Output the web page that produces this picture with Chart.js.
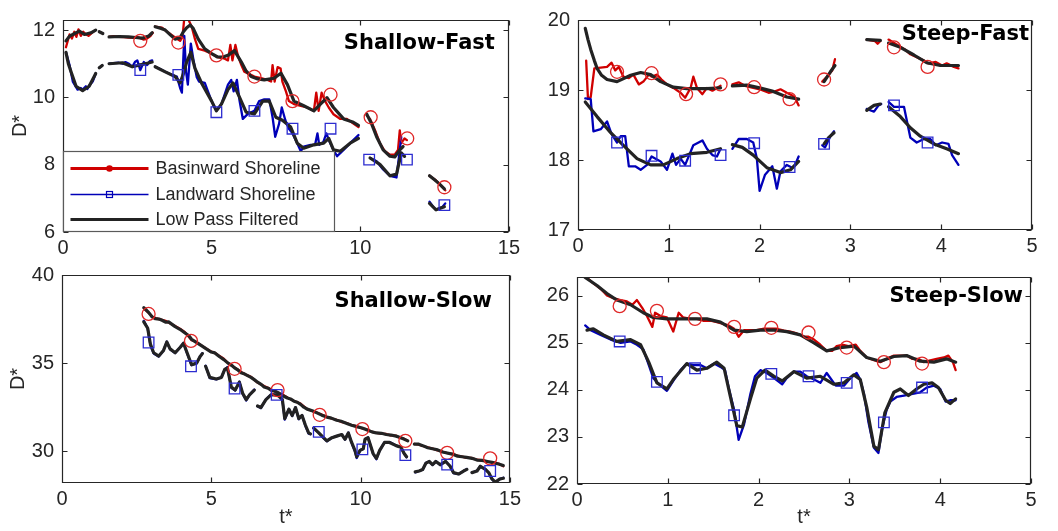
<!DOCTYPE html>
<html>
<head>
<meta charset="utf-8">
<script src="https://cdn.jsdelivr.net/npm/chart.js@4.4.1/dist/chart.umd.min.js"></script>
<style>
  html, body { margin: 0; padding: 0; background: #fff; }
  body { width: 1058px; height: 531px; position: relative; overflow: hidden; }
  canvas { position: absolute; }
</style>
</head>
<body>
<canvas id="c1" width="524" height="262" style="left:0px;top:0px"></canvas>
<canvas id="c2" width="527" height="260" style="left:515px;top:0px"></canvas>
<canvas id="c3" width="525" height="274" style="left:0px;top:255px"></canvas>
<canvas id="c4" width="527" height="273" style="left:514px;top:257px"></canvas>
<script>
// ---------- Shallow-Fast : [t*, D*], null = gap ----------
const sfBasin = [[0.1,11.49],[0.22,11.87],[0.3,11.75],[0.38,11.95],[0.45,11.8],[0.52,12.02],[0.6,11.83],[0.68,11.95],[0.76,11.88],[0.86,11.83],[1.0,11.94],[1.1,12.0],null,[1.22,11.95],[1.34,11.9],null,
  [1.55,11.8],[1.7,11.82],[1.88,11.8],[2.05,11.79],[2.2,11.78],[2.4,11.77],[2.55,11.78],[2.7,11.72],[2.8,11.73],[2.94,11.82],[3.02,11.92],null,
  [3.1,12.1],[3.33,12.07],[3.55,11.92],[3.77,11.78],[3.94,11.68],[4.02,11.8],[4.08,12.35],[4.2,12.35],[4.33,12.1],[4.44,11.73],[4.55,11.44],[4.77,11.39],[5.0,11.3],[5.2,11.2],[5.44,11.15],[5.55,11.1],[5.63,11.56],[5.7,11.1],[5.8,11.56],[5.88,11.25],[6.0,10.96],[6.1,10.76],[6.2,10.72],[6.44,10.62],[6.66,10.57],[6.88,10.52],[7.0,10.47],[7.05,10.96],[7.12,10.47],[7.22,10.9],[7.32,10.86],[7.38,10.47],[7.5,10.18],[7.6,9.89],[7.77,9.8],[8.0,9.75],[8.22,9.7],[8.44,9.6],[8.52,10.14],[8.6,9.6],[8.7,10.14],[8.8,9.92],[8.94,9.7],[9.1,9.5],[9.33,9.36],[9.55,9.36],[9.77,9.22],[9.94,9.12],null,
  [10.22,9.46],[10.33,9.36],[10.5,9.02],[10.66,8.64],[10.83,8.4],[11.0,8.3],[11.16,8.3],[11.27,8.44],[11.33,9.02],[11.38,8.64],[11.49,8.78],[11.57,8.73],null,
  [12.33,7.67],[12.55,7.53],[12.77,7.33],[12.86,7.24]];
const sfBasinLP = [[0.1,11.68],[0.22,11.82],[0.33,11.87],[0.55,11.97],[0.72,11.87],[0.94,11.92],[1.1,12.0],null,[1.22,11.95],[1.34,11.9],null,
  [1.55,11.8],[1.9,11.81],[2.2,11.8],[2.45,11.78],[2.66,11.76],[2.88,11.82],[3.0,11.92],null,
  [3.1,12.1],[3.3,12.05],[3.44,12.0],[3.62,11.85],[3.77,11.73],[3.94,11.78],[4.05,11.95],[4.16,12.07],[4.28,12.15],[4.38,12.05],[4.55,11.73],[4.77,11.44],[5.0,11.3],[5.2,11.2],[5.38,11.2],[5.55,11.25],[5.77,11.39],[6.0,11.05],[6.15,10.8],[6.33,10.62],[6.55,10.55],[6.77,10.52],[7.1,10.57],[7.33,10.72],[7.55,10.38],[7.77,9.89],[8.1,9.75],[8.44,9.6],[8.66,9.8],[8.88,9.99],[9.1,9.7],[9.44,9.36],[9.77,9.26],[9.94,9.17],null,
  [10.22,9.5],[10.38,9.22],[10.55,8.83],[10.77,8.44],[11.0,8.25],[11.16,8.23],[11.33,8.44],[11.44,8.54],null,
  [12.33,7.67],[12.5,7.55],[12.66,7.43],[12.83,7.28]];
const sfLand = [[0.1,11.34],[0.22,10.96],[0.33,10.47],[0.49,10.23],[0.6,10.28],[0.66,10.23],[0.77,10.33],[0.82,10.25],[0.88,10.35],[1.0,10.47],[1.1,10.71],null,[1.22,10.88],[1.32,10.95],null,
  [1.55,11.0],[1.7,11.02],[1.88,11.03],[2.0,11.0],[2.1,11.05],[2.22,11.0],[2.33,10.91],[2.42,11.05],[2.5,11.1],[2.6,10.81],[2.72,11.05],[2.83,10.96],[2.92,11.08],[3.0,11.1],null,
  [3.1,10.91],[3.25,10.85],[3.44,10.76],[3.66,10.67],[3.83,10.62],[3.94,10.28],[4.0,10.14],[4.08,11.83],[4.14,10.76],[4.2,10.38],[4.3,11.6],[4.4,11.05],[4.5,10.6],[4.58,10.47],[4.77,10.43],[5.0,9.89],[5.16,9.6],[5.33,9.8],[5.55,10.38],[5.66,10.52],[5.74,10.18],[5.85,10.52],[5.94,9.9],[6.05,9.36],[6.22,9.51],[6.44,9.6],[6.6,9.89],[6.77,9.94],[6.94,9.94],[7.05,9.41],[7.14,8.83],[7.27,9.22],[7.36,9.7],[7.48,9.32],[7.6,9.07],[7.72,8.93],[7.88,8.64],[8.0,8.4],[8.1,8.54],[8.33,8.59],[8.48,8.59],[8.56,8.93],[8.62,8.59],[8.76,8.68],[8.86,8.93],[8.96,8.7],[9.1,8.44],[9.22,8.25],[9.44,8.44],[9.66,8.64],[9.94,8.88],null,
  [10.33,8.2],[10.55,8.1],[10.77,7.86],[11.0,7.67],[11.22,7.62],[11.33,8.44],[11.38,8.83],null,
  [12.33,6.9],[12.45,6.75],[12.55,6.66],[12.77,6.75],[12.86,6.85]];
const sfLandLP = [[0.1,11.34],[0.18,11.0],[0.27,10.76],[0.44,10.33],[0.66,10.2],[0.88,10.33],[1.05,10.62],[1.1,10.71],null,[1.22,10.88],[1.32,10.95],null,
  [1.55,11.0],[2.0,11.03],[2.33,10.91],[2.55,10.96],[2.77,11.0],[3.0,11.05],null,
  [3.1,10.91],[3.44,10.76],[3.77,10.62],[3.94,10.43],[4.05,10.7],[4.16,11.05],[4.3,11.34],[4.44,10.86],[4.66,10.43],[5.0,9.89],[5.16,9.6],[5.33,9.8],[5.55,10.23],[5.72,10.43],[5.94,10.0],[6.16,9.56],[6.44,9.51],[6.72,9.89],[6.94,9.89],[7.16,9.41],[7.38,9.32],[7.66,9.12],[7.88,8.64],[8.1,8.49],[8.44,8.59],[8.77,8.64],[8.94,8.78],[9.1,8.44],[9.33,8.4],[9.66,8.64],[9.94,8.78],null,
  [10.33,8.2],[10.66,8.01],[11.0,7.67],[11.22,7.72],[11.38,8.35],[11.49,8.25],null,
  [12.33,6.85],[12.55,6.66],[12.83,6.75]];
const sfBasinMarks = [[2.6,11.68],[3.88,11.63],[5.16,11.25],[6.44,10.62],[7.72,9.89],[9.0,10.08],[10.35,9.41],[11.58,8.78],[12.83,7.33]];
const sfLandMarks = [[2.6,10.81],[3.88,10.67],[5.16,9.56],[6.44,9.6],[7.72,9.07],[9.0,9.07],[10.3,8.15],[11.57,8.15],[12.83,6.8]];

// ---------- Steep-Fast ----------
const stfBasin = [[0.09,19.42],[0.11,18.87],[0.14,18.9],[0.18,19.31],[0.25,19.32],[0.32,19.33],[0.37,19.39],[0.41,19.28],[0.45,19.33],[0.5,19.19],[0.56,19.17],[0.61,19.22],[0.67,19.08],[0.72,19.12],[0.78,19.22],[0.81,19.19],[0.87,19.22],[0.92,19.15],[0.98,19.08],[1.05,19.03],[1.13,18.96],[1.18,18.89],[1.24,19.03],[1.27,19.19],[1.31,19.03],[1.37,18.94],[1.42,19.03],[1.48,18.99],[1.53,19.03],[1.57,19.06],null,
  [1.7,19.08],[1.77,19.11],[1.84,19.06],[1.93,19.03],[2.0,19.01],[2.1,18.96],[2.17,18.98],[2.23,19.01],[2.3,18.96],[2.36,18.92],[2.39,18.89],[2.43,18.78],null,
  [2.69,19.12],[2.74,19.19],[2.8,19.28],[2.83,19.44],null,
  [3.18,19.72],[3.27,19.7],[3.3,19.66],[3.33,19.7],null,
  [3.42,19.72],[3.51,19.65],[3.6,19.58],[3.66,19.51],[3.73,19.47],[3.81,19.42],[3.86,19.38],[3.94,19.4],[4.01,19.35],[4.06,19.38],[4.14,19.33],[4.19,19.31]];
const stfBasinLP = [[0.08,19.88],[0.11,19.72],[0.14,19.58],[0.18,19.42],[0.21,19.31],[0.26,19.21],[0.32,19.15],[0.43,19.12],[0.58,19.21],[0.69,19.25],[0.8,19.22],[0.91,19.12],[1.05,19.04],[1.2,19.02],[1.42,19.02],[1.57,19.03],null,
  [1.7,19.06],[1.86,19.07],[2.0,19.03],[2.15,18.98],[2.3,18.9],[2.43,18.87],null,
  [2.71,19.12],[2.78,19.26],[2.83,19.35],null,
  [3.18,19.72],[3.33,19.71],null,
  [3.42,19.67],[3.55,19.61],[3.7,19.5],[3.84,19.39],[3.99,19.35],[4.19,19.35]];
const stfLand = [[0.08,18.88],[0.14,18.87],[0.17,18.41],[0.25,18.44],[0.32,18.55],[0.37,18.37],[0.43,18.25],[0.47,18.34],[0.52,18.34],[0.56,17.91],[0.63,17.91],[0.69,17.86],[0.76,17.93],[0.81,18.05],[0.85,18.02],[0.91,17.98],[0.98,17.86],[1.04,18.09],[1.08,17.93],[1.13,18.02],[1.18,17.93],[1.27,18.21],[1.37,18.28],[1.42,18.16],[1.48,18.07],[1.53,18.05],[1.57,18.16],null,
  [1.7,18.16],[1.77,18.3],[1.86,18.3],[1.93,18.25],[1.97,18.02],[2.0,17.56],[2.06,17.79],[2.14,17.91],[2.19,17.59],[2.23,17.84],[2.3,17.93],[2.36,17.89],[2.39,17.93],[2.43,18.05],null,
  [2.69,18.21],[2.72,18.18],[2.78,18.34],[2.82,18.41],null,
  [3.18,18.73],[3.26,18.69],[3.31,18.78],[3.34,18.8],null,
  [3.42,18.83],[3.48,18.76],[3.59,18.76],[3.62,18.57],[3.66,18.32],[3.73,18.25],[3.81,18.3],[3.88,18.3],[3.94,18.21],[4.01,18.25],[4.08,18.23],[4.12,18.07],[4.19,17.93]];
const stfLandLP = [[0.08,18.83],[0.21,18.62],[0.36,18.39],[0.5,18.21],[0.65,18.02],[0.8,17.93],[0.94,17.93],[1.09,18.02],[1.24,18.09],[1.42,18.11],[1.57,18.16],null,
  [1.7,18.22],[1.81,18.18],[1.93,18.07],[2.08,17.89],[2.23,17.82],[2.34,17.86],[2.43,17.98],null,
  [2.71,18.23],[2.76,18.32],[2.82,18.39],null,
  [3.18,18.71],[3.26,18.78],[3.33,18.8],null,
  [3.42,18.76],[3.55,18.62],[3.66,18.46],[3.77,18.34],[3.92,18.23],[4.06,18.16],[4.19,18.09]];
const stfBasinMarks = [[0.43,19.26],[0.81,19.24],[1.19,18.94],[1.57,19.08],[1.94,19.04],[2.33,18.87],[2.71,19.15],[3.48,19.61],[3.85,19.33]];
const stfLandMarks = [[0.43,18.25],[0.81,18.06],[1.18,17.99],[1.57,18.07],[1.94,18.24],[2.33,17.9],[2.71,18.23],[3.48,18.78],[3.85,18.25]];

// ---------- Shallow-Slow ----------
const ssBasin = [[2.74,38.1],[2.9,37.85],[3.05,37.6],[3.13,37.55],[3.35,37.45],[3.5,37.38],[3.57,37.3],[3.79,37.1],[3.95,36.95],[4.12,36.75],[4.34,36.3],[4.5,36.2],[4.67,36.0],[4.85,35.8],[5.0,35.65],[5.15,35.55],[5.28,35.4],[5.42,35.25],[5.56,35.0],[5.78,34.75],[5.9,34.62],[6.0,34.5],[6.15,34.35],[6.33,34.22],[6.55,33.9],[6.77,33.7],[6.9,33.6],[7.0,33.5],[7.15,33.38],[7.27,33.3],[7.4,33.2],[7.55,33.05],[7.77,32.85],[7.99,32.7],[8.1,32.55],[8.21,32.4],[8.35,32.3],[8.54,32.2],[8.7,32.08],[8.87,31.95],[9.05,31.85],[9.2,31.78],[9.38,31.65],[9.54,31.6],[9.7,31.48],[9.87,31.42],[10.05,31.3],[10.2,31.25],[10.35,31.12],[10.53,31.05],[10.7,31.0],[10.86,30.98],[11.0,30.9],[11.19,30.88],[11.3,30.78],[11.41,30.75],[11.58,30.6],null,
  [11.8,30.42],[11.95,30.38],[12.08,30.3],[12.25,30.22],[12.41,30.15],[12.58,30.05],[12.74,29.98],[12.9,29.9],[13.07,29.85],[13.25,29.75],[13.4,29.7],[13.55,29.62],[13.73,29.62],[13.9,29.52],[14.07,29.5],[14.25,29.4],[14.4,29.38],[14.62,29.3],[14.78,29.15]];
const ssBasinLP = [[2.74,38.15],[2.9,37.88],[3.02,37.62],[3.13,37.52],[3.25,37.5],[3.35,37.43],[3.48,37.32],[3.57,37.34],[3.79,37.07],[3.95,36.92],[4.12,36.71],[4.25,36.55],[4.34,36.35],[4.5,36.18],[4.67,35.99],[4.82,35.82],[5.0,35.63],[5.12,35.58],[5.28,35.36],[5.42,35.2],[5.56,35.0],[5.68,34.88],[5.78,34.73],[5.9,34.6],[6.0,34.46],[6.12,34.38],[6.33,34.19],[6.45,34.05],[6.55,33.92],[6.68,33.78],[6.77,33.65],[6.9,33.58],[7.0,33.47],[7.15,33.4],[7.27,33.29],[7.4,33.15],[7.55,33.02],[7.65,32.97],[7.77,32.84],[7.88,32.78],[7.99,32.66],[8.1,32.5],[8.21,32.39],[8.38,32.3],[8.54,32.18],[8.7,32.05],[8.87,31.94],[9.02,31.88],[9.2,31.76],[9.35,31.7],[9.54,31.58],[9.7,31.48],[9.87,31.4],[10.05,31.32],[10.2,31.22],[10.38,31.1],[10.53,31.04],[10.7,31.02],[10.86,30.95],[11.02,30.92],[11.19,30.86],[11.3,30.8],[11.41,30.72],[11.58,30.59],null,
  [11.8,30.41],[11.95,30.4],[12.08,30.32],[12.25,30.2],[12.41,30.14],[12.58,30.08],[12.74,29.96],[12.9,29.9],[13.07,29.84],[13.25,29.72],[13.4,29.69],[13.55,29.65],[13.73,29.6],[13.9,29.5],[14.07,29.48],[14.25,29.42],[14.4,29.37],[14.62,29.28],[14.78,29.19]];
const ssLand = [[2.74,37.4],[2.87,36.98],[2.96,36.02],[3.07,35.55],[3.24,35.38],[3.4,35.72],[3.51,36.22],[3.62,35.78],[3.79,35.57],[3.96,35.9],[4.07,36.15],[4.18,35.6],[4.34,34.88],[4.51,35.0],[4.62,35.36],[4.7,35.56],null,
  [4.81,34.85],[4.95,34.15],[5.17,34.08],[5.34,34.2],[5.45,34.64],[5.54,34.78],[5.67,33.6],[5.8,33.45],[5.94,33.95],[6.05,33.25],[6.17,32.88],[6.28,33.2],[6.44,33.5],null,
  [6.55,32.55],[6.66,32.45],[6.83,32.95],[7.0,33.22],[7.22,33.2],[7.38,32.95],[7.46,31.8],[7.6,32.4],[7.71,32.0],[7.82,32.5],[7.93,31.82],[8.04,32.05],[8.15,31.45],[8.26,31.0],[8.32,30.97],null,
  [8.43,31.31],[8.6,31.04],[8.76,30.75],[8.87,30.57],[9.04,30.77],[9.2,30.86],[9.37,30.95],[9.48,30.66],[9.59,31.06],[9.7,30.48],[9.81,30.0],[9.87,29.62],[9.98,30.05],[10.09,30.14],[10.15,30.7],[10.25,30.78],[10.42,29.85],[10.53,29.55],[10.64,30.05],[10.8,30.5],[10.97,30.52],[11.19,30.32],[11.35,30.23],[11.46,29.85],[11.54,29.66],null,
  [11.83,28.8],[11.96,28.88],[12.08,28.95],[12.19,29.35],[12.3,29.42],[12.41,29.22],[12.52,29.44],[12.67,29.22],[12.85,29.44],[13.0,29.15],[13.11,28.76],[13.28,28.7],[13.45,28.88],[13.56,28.99],null,
  [13.73,28.78],[13.9,28.9],[14.01,29.15],[14.18,28.97],[14.29,28.78],[14.4,28.42],[14.51,28.22],[14.67,28.43],[14.78,28.5]];
const ssLandLP = [[2.74,37.34],[2.87,36.98],[2.96,36.08],[3.07,35.59],[3.24,35.4],[3.4,35.72],[3.51,36.2],[3.62,35.81],[3.79,35.59],[3.96,35.9],[4.07,36.13],[4.18,35.63],[4.34,34.91],[4.51,35.0],[4.62,35.36],[4.7,35.54],null,
  [4.81,34.82],[4.95,34.19],[5.17,34.1],[5.34,34.19],[5.45,34.64],[5.54,34.73],[5.67,33.65],[5.8,33.47],[5.94,33.92],[6.05,33.29],[6.17,32.93],[6.28,33.2],[6.44,33.47],null,
  [6.55,32.57],[6.66,32.48],[6.83,32.93],[7.0,33.2],[7.22,33.2],[7.38,32.93],[7.46,31.85],[7.6,32.39],[7.71,32.03],[7.82,32.48],[7.93,31.85],[8.04,32.03],[8.15,31.49],[8.26,31.04],[8.32,30.99],null,
  [8.43,31.31],[8.6,31.04],[8.76,30.77],[8.87,30.59],[9.04,30.77],[9.2,30.86],[9.37,30.95],[9.48,30.68],[9.59,31.04],[9.7,30.5],[9.81,30.05],[9.87,29.69],[9.98,30.05],[10.09,30.14],[10.15,30.68],[10.25,30.77],[10.42,29.87],[10.53,29.6],[10.64,30.05],[10.8,30.5],[10.97,30.5],[11.19,30.32],[11.35,30.23],[11.46,29.87],[11.54,29.69],null,
  [11.83,28.83],[11.96,28.88],[12.08,28.97],[12.19,29.33],[12.3,29.42],[12.41,29.24],[12.52,29.42],[12.67,29.24],[12.85,29.42],[13.0,29.15],[13.11,28.79],[13.28,28.71],[13.45,28.88],[13.56,28.97],null,
  [13.73,28.79],[13.9,28.88],[14.01,29.15],[14.18,28.97],[14.29,28.79],[14.4,28.43],[14.51,28.25],[14.67,28.43],[14.78,28.47]];
const ssBasinMarks = [[2.9,37.79],[4.32,36.26],[5.78,34.68],[7.22,33.47],[8.63,32.07],[10.06,31.26],[11.5,30.59],[12.9,29.91],[14.34,29.6]];
const ssLandMarks = [[2.9,36.17],[4.32,34.82],[5.78,33.56],[7.19,33.2],[8.6,31.1],[10.06,30.11],[11.5,29.78],[12.9,29.24],[14.34,28.88]];

// ---------- Steep-Slow ----------
const stsBasin = [[0.09,26.42],[0.17,26.28],[0.26,26.15],[0.33,26.01],[0.4,25.95],[0.48,25.91],[0.55,25.88],[0.61,25.81],[0.66,25.91],[0.72,25.74],[0.77,25.57],[0.83,25.34],[0.86,25.64],[0.92,25.57],[0.99,25.54],[1.06,25.24],[1.12,25.64],[1.17,25.54],[1.25,25.51],[1.32,25.51],[1.39,25.47],[1.47,25.47],[1.54,25.44],[1.62,25.4],[1.67,25.37],[1.73,25.3],[1.78,25.13],[1.84,25.27],[1.91,25.27],[1.98,25.27],[2.06,25.3],[2.13,25.3],[2.2,25.3],[2.28,25.26],[2.35,25.24],[2.42,25.2],[2.5,25.13],[2.55,25.13],[2.61,25.07],[2.68,24.96],[2.75,24.83],[2.81,24.83],[2.86,24.93],[2.92,24.96],[2.99,24.93],[3.07,24.96],[3.12,24.83],[3.19,24.69],[3.27,24.63],[3.34,24.59],[3.41,24.66],[3.49,24.73],[3.56,24.73],[3.63,24.73],[3.69,24.66],[3.76,24.66],[3.82,24.59],[3.89,24.63],[3.96,24.66],[4.04,24.69],[4.09,24.73],[4.14,24.59],[4.17,24.42]];
const stsBasinLP = [[0.09,26.39],[0.22,26.22],[0.33,26.05],[0.44,25.91],[0.59,25.81],[0.73,25.64],[0.84,25.54],[0.99,25.51],[1.21,25.51],[1.43,25.51],[1.58,25.44],[1.73,25.27],[1.87,25.24],[2.02,25.27],[2.17,25.27],[2.31,25.24],[2.46,25.17],[2.61,25.0],[2.75,24.83],[2.9,24.9],[3.05,24.93],[3.19,24.69],[3.34,24.61],[3.49,24.71],[3.63,24.73],[3.78,24.61],[3.93,24.59],[4.07,24.66],[4.17,24.59]];
const stsLand = [[0.09,25.37],[0.15,25.27],[0.26,25.17],[0.37,25.07],[0.48,25.0],[0.59,25.03],[0.66,24.96],[0.73,24.86],[0.79,24.53],[0.84,24.25],[0.92,24.09],[0.99,23.98],[1.06,24.19],[1.14,24.42],[1.21,24.56],[1.28,24.53],[1.36,24.53],[1.43,24.46],[1.51,24.56],[1.58,24.49],[1.63,24.42],[1.67,24.05],[1.73,23.58],[1.78,22.94],[1.84,23.27],[1.91,23.92],[1.96,24.29],[2.02,24.42],[2.09,24.36],[2.17,24.25],[2.26,24.12],[2.31,24.25],[2.39,24.39],[2.46,24.39],[2.53,24.29],[2.61,24.22],[2.68,24.15],[2.75,24.36],[2.85,24.09],[2.94,24.09],[3.01,24.25],[3.08,24.36],[3.12,24.22],[3.16,23.92],[3.21,23.31],[3.27,22.77],[3.32,22.66],[3.36,23.17],[3.41,23.58],[3.45,23.75],[3.52,23.85],[3.6,23.88],[3.71,23.92],[3.78,23.95],[3.85,24.05],[3.93,24.09],[4.0,24.02],[4.06,23.75],[4.11,23.78],[4.17,23.78]];
const stsLandLP = [[0.11,25.27],[0.18,25.3],[0.29,25.17],[0.44,25.03],[0.59,25.07],[0.7,24.96],[0.79,24.59],[0.88,24.15],[0.99,24.02],[1.06,24.22],[1.21,24.56],[1.32,24.42],[1.43,24.46],[1.54,24.59],[1.62,24.46],[1.69,23.85],[1.76,23.24],[1.82,23.21],[1.91,23.81],[1.98,24.25],[2.07,24.42],[2.17,24.29],[2.26,24.19],[2.39,24.39],[2.53,24.25],[2.68,24.29],[2.83,24.12],[2.94,24.15],[3.05,24.32],[3.12,24.22],[3.19,23.64],[3.27,22.8],[3.32,22.73],[3.39,23.51],[3.49,23.95],[3.56,24.02],[3.65,23.88],[3.74,24.02],[3.82,24.12],[3.91,24.15],[3.98,24.05],[4.06,23.78],[4.11,23.71],[4.17,23.81]];
const stsBasinMarks = [[0.47,25.78],[0.88,25.68],[1.3,25.51],[1.73,25.34],[2.14,25.32],[2.55,25.22],[2.97,24.9],[3.38,24.59],[3.8,24.56]];
const stsLandMarks = [[0.47,25.03],[0.88,24.17],[1.3,24.46],[1.73,23.46],[2.14,24.34],[2.55,24.29],[2.97,24.15],[3.38,23.31],[3.8,24.05]];

// ---------- axis ticks ----------
const shallowXTicks = [0, 5, 10, 15];
const steepXTicks = [0, 1, 2, 3, 4, 5];
const sfYTicks = [6, 8, 10, 12];
const stfYTicks = [17, 18, 19, 20];
const ssYTicks = [30, 35, 40];
const stsYTicks = [22, 23, 24, 25, 26];

// legend entries
const legendLabels = ['Basinward Shoreline', 'Landward Shoreline', 'Low Pass Filtered'];

// ---------- styling ----------
const FONT = "'Liberation Sans', Arial, Helvetica, sans-serif";
const INK = '#262626';
const RED = '#d00000';
const BLUE = '#0000b8';
const LP = '#232323';
const CIRCLE = '#e02828';
const SQUARE = '#2c2cd0';

function toPoints(arr) {
  const out = [];
  let lastX = 0;
  for (const p of arr) {
    if (p === null) { out.push({ x: lastX, y: null }); }
    else { out.push({ x: p[0], y: p[1] }); lastX = p[0]; }
  }
  return out;
}

function lineSet(arr, color, width, order) {
  return { data: toPoints(arr), borderColor: color, borderWidth: width, pointRadius: 0,
           pointHoverRadius: 0, spanGaps: false, tension: 0, fill: false, order: order,
           borderCapStyle: 'round', borderJoinStyle: 'round' };
}
function markSet(arr, color, style, radius, order) {
  return { data: toPoints(arr), showLine: false, pointStyle: style, pointRadius: radius,
           pointBorderColor: color, pointBackgroundColor: 'rgba(0,0,0,0)', pointBorderWidth: 1.3,
           borderColor: color, order: order };
}

// Axes box, inward tick marks, optional legend and the panel caption
const framePlugin = {
  id: 'frame',
  afterDraw(chart, args, opts) {
    const { ctx, chartArea: a, scales: { x, y } } = chart;
    ctx.save();
    ctx.strokeStyle = INK;
    ctx.lineWidth = 1.2;
    const L = Math.round(a.left) + 0.5, R = Math.round(a.right) - 0.5;
    const T = Math.round(a.top) + 0.5, B = Math.round(a.bottom) - 0.5;
    ctx.beginPath();
    ctx.rect(L, T, R - L, B - T);
    const tl = 5;
    x.ticks.forEach(t => {
      const px = Math.round(x.getPixelForValue(t.value)) + 0.5;
      ctx.moveTo(px, B); ctx.lineTo(px, B - tl);
      ctx.moveTo(px, T); ctx.lineTo(px, T + tl);
    });
    y.ticks.forEach(t => {
      const py = Math.round(y.getPixelForValue(t.value)) + 0.5;
      ctx.moveTo(L, py); ctx.lineTo(L + tl, py);
      ctx.moveTo(R, py); ctx.lineTo(R - tl, py);
    });
    ctx.stroke();

    if (opts.legend) {
      const lg = opts.legend;
      const lx = L, ly = Math.round(a.top + lg.top) + 0.5;
      const lw = lg.width, lh = B - ly;
      ctx.fillStyle = '#fff';
      ctx.fillRect(lx, ly, lw, lh);
      ctx.strokeStyle = '#5a5a5a';
      ctx.lineWidth = 1.2;
      ctx.strokeRect(lx, ly, lw, lh);
      const rows = lg.rows;
      const styles = [
        { c: RED, w: 2.8, mark: 'dot' },
        { c: BLUE, w: 1.3, mark: 'square' },
        { c: LP, w: 3.2, mark: null }
      ];
      ctx.font = '18px ' + FONT;
      ctx.textBaseline = 'middle';
      ctx.textAlign = 'left';
      legendLabels.forEach((txt, i) => {
        const ry = ly + rows[i];
        const s = styles[i];
        ctx.strokeStyle = s.c; ctx.lineWidth = s.w;
        ctx.beginPath(); ctx.moveTo(lx + 7, ry); ctx.lineTo(lx + 85, ry); ctx.stroke();
        const mx = lx + 46;
        if (s.mark === 'dot') {
          ctx.fillStyle = s.c; ctx.beginPath(); ctx.arc(mx, ry, 3.3, 0, Math.PI * 2); ctx.fill();
        } else if (s.mark === 'square') {
          ctx.lineWidth = 1.2; ctx.strokeRect(mx - 3, ry - 3, 6, 6);
        }
        ctx.fillStyle = INK;
        ctx.fillText(txt, lx + 92, ry + 1);
      });
    }

    if (opts.caption) {
      const c = opts.caption;
      ctx.font = "bold 21px 'DejaVu Sans', Verdana, sans-serif";
      ctx.fillStyle = '#000';
      ctx.textAlign = 'right';
      ctx.textBaseline = 'middle';
      ctx.fillText(c.text, a.right - c.right, a.top + c.dy);
    }
    ctx.restore();
  }
};

function makePanel(id, p) {
  const datasets = [
    lineSet(p.basin, RED, 2.3, 5),
    lineSet(p.land, BLUE, 2.3, 4),
    lineSet(p.basinLP, LP, 3.2, 3),
    lineSet(p.landLP, LP, 3.2, 2),
    markSet(p.basinMarks, CIRCLE, 'circle', 6.5, 1),
    markSet(p.landMarks, SQUARE, 'rect', 7.5, 0)
  ];
  new Chart(document.getElementById(id), {
    type: 'line',
    data: { datasets },
    plugins: [framePlugin],
    options: {
      responsive: false,
      animation: false,
      devicePixelRatio: 1,
      events: [],
      layout: { padding: { top: p.padTop, right: 10, left: 0, bottom: 0 } },
      plugins: {
        legend: { display: false },
        tooltip: { enabled: false },
        frame: { legend: p.legend || null, caption: p.caption }
      },
      scales: {
        x: {
          type: 'linear', min: p.xMin, max: p.xMax,
          afterBuildTicks: s => { s.ticks = p.xTicks.map(v => ({ value: v })); },
          afterFit: s => { s.height = p.xHeight; },
          grid: { display: false, drawTicks: false },
          border: { display: false },
          ticks: { font: { family: FONT, size: 20 }, color: INK, padding: 4, maxRotation: 0, autoSkip: false },
          title: { display: !!p.xTitle, text: p.xTitle || '', color: INK,
                   font: { family: FONT, size: 20 }, padding: { top: 0, bottom: p.xTitlePad || 0 } }
        },
        y: {
          type: 'linear', min: p.yMin, max: p.yMax,
          afterBuildTicks: s => { s.ticks = p.yTicks.map(v => ({ value: v })); },
          afterFit: s => { s.width = p.yWidth; },
          grid: { display: false, drawTicks: false },
          border: { display: false },
          ticks: { font: { family: FONT, size: 20 }, color: INK, padding: 8, autoSkip: false },
          title: { display: !!p.yTitle, text: p.yTitle || '', color: INK,
                   font: { family: FONT, size: 20 }, padding: { top: p.yTitlePad || 0, bottom: 0 } }
        }
      }
    }
  });
}

makePanel('c1', {
  basin: sfBasin, land: sfLand, basinLP: sfBasinLP, landLP: sfLandLP,
  basinMarks: sfBasinMarks, landMarks: sfLandMarks,
  xMin: 0, xMax: 15, xTicks: shallowXTicks, yMin: 6, yMax: 12.3, yTicks: sfYTicks,
  padTop: 14, xHeight: 30, yWidth: 63, yTitle: 'D*', yTitlePad: 8,
  legend: { top: 131, width: 271, rows: [17, 43, 68] },
  caption: { text: 'Shallow-Fast', right: 14, dy: 24 }
});
makePanel('c2', {
  basin: stfBasin, land: stfLand, basinLP: stfBasinLP, landLP: stfLandLP,
  basinMarks: stfBasinMarks, landMarks: stfLandMarks,
  xMin: 0, xMax: 5, xTicks: steepXTicks, yMin: 17, yMax: 20, yTicks: stfYTicks,
  padTop: 14, xHeight: 30, yWidth: 63,
  caption: { text: 'Steep-Fast', right: 3, dy: 15 }
});
makePanel('c3', {
  basin: ssBasin, land: ssLand, basinLP: ssBasinLP, landLP: ssLandLP,
  basinMarks: ssBasinMarks, landMarks: ssLandMarks,
  xMin: 0, xMax: 15, xTicks: shallowXTicks, yMin: 28.2, yMax: 40, yTicks: ssYTicks,
  padTop: 10, xHeight: 46, yWidth: 62, yTitle: 'D*', yTitlePad: 6.5, xTitle: 't*', xTitlePad: 0,
  caption: { text: 'Shallow-Slow', right: 18, dy: 27 }
});
makePanel('c4', {
  basin: stsBasin, land: stsLand, basinLP: stsBasinLP, landLP: stsLandLP,
  basinMarks: stsBasinMarks, landMarks: stsLandMarks,
  xMin: 0, xMax: 5, xTicks: steepXTicks, yMin: 22, yMax: 26.4, yTicks: stsYTicks,
  padTop: 10, xHeight: 46, yWidth: 63, xTitle: 't*', xTitlePad: 1,
  caption: { text: 'Steep-Slow', right: 8, dy: 20 }
});
</script>
</body>
</html>
